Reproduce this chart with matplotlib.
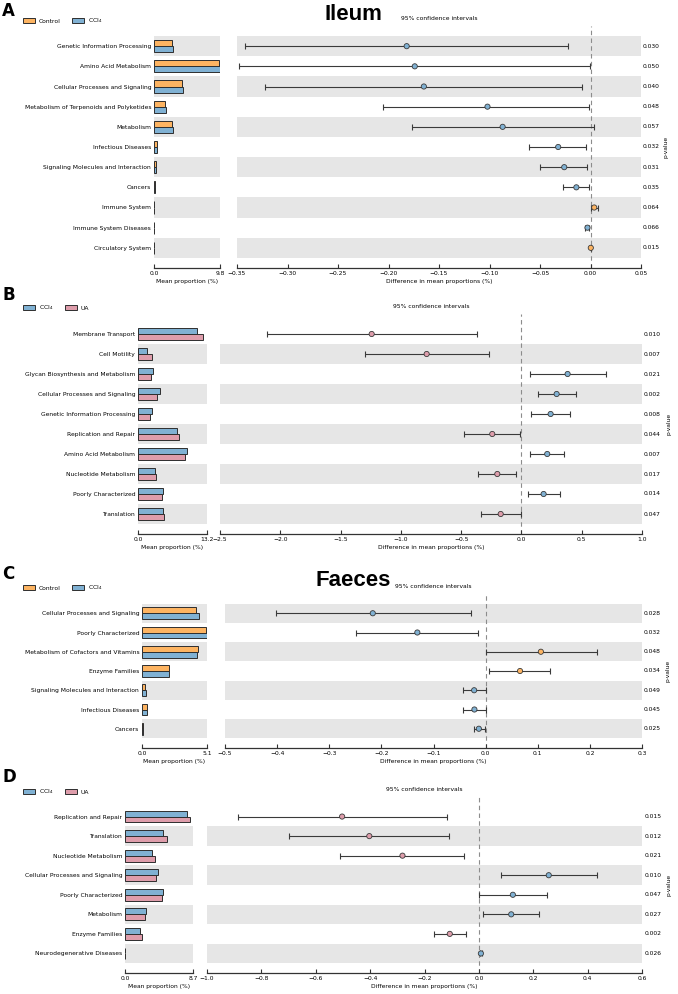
import matplotlib
matplotlib.use("Agg")
import matplotlib.pyplot as plt
from matplotlib.patches import Patch
import numpy as np

W, H = 678, 994

ORANGE = "#FDB462"
BLUE = "#80B1D3"
PINK = "#DE9DAB"
STRIPE = "#E6E6E6"
EDGE = "#2E2E2E"
FS = 4.3

# ---------------- A : Ileum, Control vs CCl4 ----------------
a_names = ["Genetic Information Processing", "Amino Acid Metabolism",
           "Cellular Processes and Signaling", "Metabolism of Terpenoids and Polyketides",
           "Metabolism", "Infectious Diseases", "Signaling Molecules and Interaction",
           "Cancers", "Immune System", "Immune System Diseases", "Circulatory System"]
a_ctrl = [2.72, 9.62, 4.20, 1.63, 2.72, 0.45, 0.30, 0.15, 0.06, 0.04, 0.02]
a_ccl4 = [2.87, 9.80, 4.36, 1.73, 2.87, 0.50, 0.33, 0.17, 0.05, 0.05, 0.02]
a_diff = [-0.182, -0.174, -0.165, -0.102, -0.087, -0.032, -0.026, -0.014, 0.0037, -0.003, 0.0003]
a_lo = [-0.342, -0.348, -0.322, -0.205, -0.177, -0.061, -0.050, -0.027, 0.0, -0.005, 0.0]
a_hi = [-0.0225, -0.0007, -0.0086, -0.001, 0.003, -0.004, -0.003, -0.001, 0.0076, -0.001, 0.0006]
a_p = ["0.030", "0.050", "0.040", "0.048", "0.057", "0.032", "0.031", "0.035", "0.064", "0.066", "0.015"]
a_barmax = 9.8
a_ticks = [-0.35, -0.30, -0.25, -0.20, -0.15, -0.10, -0.05, 0.00, 0.05]

# ---------------- B : Ileum, CCl4 vs UA ----------------
b_names = ["Membrane Transport", "Cell Motility", "Glycan Biosynthesis and Metabolism",
           "Cellular Processes and Signaling", "Genetic Information Processing",
           "Replication and Repair", "Amino Acid Metabolism", "Nucleotide Metabolism",
           "Poorly Characterized", "Translation"]
b_ccl4 = [11.35, 1.79, 2.80, 4.14, 2.68, 7.52, 9.30, 3.32, 4.78, 4.72]
b_ua = [12.50, 2.61, 2.49, 3.70, 2.36, 7.78, 9.04, 3.51, 4.59, 4.91]
b_diff = [-1.242, -0.786, 0.383, 0.292, 0.242, -0.242, 0.214, -0.200, 0.184, -0.172]
b_lo = [-2.113, -1.300, 0.070, 0.134, 0.081, -0.474, 0.070, -0.358, 0.051, -0.338]
b_hi = [-0.372, -0.267, 0.700, 0.452, 0.402, -0.010, 0.355, -0.048, 0.322, -0.002]
b_p = ["0.010", "0.007", "0.021", "0.002", "0.008", "0.044", "0.007", "0.017", "0.014", "0.047"]
b_barmax = 13.2
b_ticks = [-2.5, -2.0, -1.5, -1.0, -0.5, 0.0, 0.5, 1.0]

# ---------------- C : Faeces, Control vs CCl4 ----------------
c_names = ["Cellular Processes and Signaling", "Poorly Characterized",
           "Metabolism of Cofactors and Vitamins", "Enzyme Families",
           "Signaling Molecules and Interaction", "Infectious Diseases", "Cancers"]
c_ctrl = [4.21, 5.00, 4.42, 2.14, 0.26, 0.39, 0.08]
c_ccl4 = [4.45, 5.10, 4.31, 2.09, 0.29, 0.42, 0.10]
c_diff = [-0.2165, -0.131, 0.106, 0.066, -0.022, -0.0215, -0.013]
c_lo = [-0.403, -0.248, 0.001, 0.006, -0.043, -0.0426, -0.023]
c_hi = [-0.029, -0.015, 0.213, 0.124, 0.0, 0.0, -0.002]
c_p = ["0.028", "0.032", "0.048", "0.034", "0.049", "0.045", "0.025"]
c_barmax = 5.1
c_ticks = [-0.5, -0.4, -0.3, -0.2, -0.1, 0.0, 0.1, 0.2, 0.3]

# ---------------- D : Faeces, CCl4 vs UA ----------------
d_names = ["Replication and Repair", "Translation", "Nucleotide Metabolism",
           "Cellular Processes and Signaling", "Poorly Characterized", "Metabolism",
           "Enzyme Families", "Neurodegenerative Diseases"]
d_ccl4 = [7.93, 4.90, 3.50, 4.22, 4.90, 2.64, 1.96, 0.05]
d_ua = [8.36, 5.33, 3.80, 4.01, 4.77, 2.52, 2.13, 0.05]
d_diff = [-0.503, -0.403, -0.281, 0.257, 0.125, 0.119, -0.107, 0.0074]
d_lo = [-0.887, -0.697, -0.509, 0.080, 0.0, 0.016, -0.165, 0.003]
d_hi = [-0.117, -0.110, -0.054, 0.435, 0.250, 0.221, -0.047, 0.012]
d_p = ["0.015", "0.012", "0.021", "0.010", "0.047", "0.027", "0.002", "0.026"]
d_barmax = 8.7
d_ticks = [-1.0, -0.8, -0.6, -0.4, -0.2, 0.0, 0.2, 0.4, 0.6]

CCL4 = "CCl$_4$"


def fmt(v, nd):
    s = f"{v:.{nd}f}"
    if float(s) == 0:
        s = f"{0:.{nd}f}"
    return s.replace("-", "\u2212")


def box(x0, x1, y0, y1):
    return [x0 / W, 1 - y1 / H, (x1 - x0) / W, (y1 - y0) / H]


def style_axis(ax):
    for s in ["top", "right", "left"]:
        ax.spines[s].set_visible(False)
    ax.spines["bottom"].set_linewidth(0.9)
    ax.spines["bottom"].set_color("#333333")
    ax.tick_params(axis="x", direction="in", length=3, width=0.8, labelsize=FS, pad=2.5,
                   color="#333333")


def panel(letter, letter_y, leg_y, names, g1, g2, lab1, lab2, col1, col2,
          diff, lo, hi, pvals, barmax, ticks, nd, bar_x, ci_x, y_top, y_bot):
    n = len(names)
    ys = np.arange(n)[::-1]

    axb = fig.add_axes(box(bar_x[0], bar_x[1], y_top, y_bot))
    axc = fig.add_axes(box(ci_x[0], ci_x[1], y_top, y_bot))

    for ax in (axb, axc):
        for y in ys:
            if y % 2 == 0:
                ax.axhspan(y - 0.5, y + 0.5, color=STRIPE, lw=0, zorder=0)
        ax.set_ylim(-1, n)
        style_axis(ax)

    axb.barh(ys + 0.15, g1, height=0.3, color=col1, edgecolor=EDGE, lw=0.7, zorder=2)
    axb.barh(ys - 0.15, g2, height=0.3, color=col2, edgecolor=EDGE, lw=0.7, zorder=2)
    axb.set_xlim(0, barmax)
    axb.set_xticks([0, barmax])
    axb.set_xticklabels(["0.0", f"{barmax:.1f}"])
    axb.set_yticks(ys)
    axb.set_yticklabels(names, fontsize=FS)
    axb.tick_params(axis="y", length=0, pad=2)
    axb.set_xlabel("Mean proportion (%)", fontsize=FS, labelpad=2)

    diff = np.array(diff)
    err = [diff - np.array(lo), np.array(hi) - diff]
    axc.axvline(0, ls=(0, (4, 3)), color="#8C8C8C", lw=0.8, zorder=1)
    axc.errorbar(diff, ys, xerr=err, fmt="none", ecolor="#3A3A3A", elinewidth=0.8,
                 capsize=2.2, capthick=0.8, zorder=3)
    cols = [col1 if d > 0 else col2 for d in diff]
    axc.scatter(diff, ys, s=14, c=cols, edgecolors="#3A3A3A", linewidths=0.6, zorder=4)
    axc.set_xlim(ticks[0], ticks[-1])
    axc.set_xticks(ticks)
    axc.set_xticklabels([fmt(t, nd) for t in ticks])
    axc.set_yticks([])
    axc.set_xlabel("Difference in mean proportions (%)", fontsize=FS, labelpad=2)
    axc.set_title("95% confidence intervals", fontsize=FS, pad=4)
    tr = axc.get_yaxis_transform()
    for y, p in zip(ys, pvals):
        axc.text(1.005, y, p, transform=tr, ha="left", va="center", fontsize=FS)
    axc.text(1.063, 0.5, "p-value", transform=axc.transAxes, rotation=90,
             ha="center", va="center", fontsize=FS)

    fig.text(2 / W, 1 - letter_y / H, letter, fontsize=12, fontweight="heavy",
             family="DejaVu Sans", va="top", ha="left")
    handles = [Patch(facecolor=col1, edgecolor=EDGE, lw=0.7),
               Patch(facecolor=col2, edgecolor=EDGE, lw=0.7)]
    fig.legend(handles, [lab1, lab2], ncol=2, frameon=False, fontsize=FS,
               loc="center left", bbox_to_anchor=(20 / W, 1 - leg_y / H),
               handlelength=2.0, handleheight=0.8, handletextpad=0.6,
               columnspacing=2.0, borderpad=0)


fig = plt.figure(figsize=(W / 100, H / 100), dpi=100)

panel("A", 2, 21, a_names, a_ctrl, a_ccl4, "Control", CCL4, ORANGE, BLUE,
      a_diff, a_lo, a_hi, a_p, a_barmax, a_ticks, 2, (154, 220), (237, 641), 26, 268)
panel("B", 286, 308, b_names, b_ccl4, b_ua, CCL4, "UA", BLUE, PINK,
      b_diff, b_lo, b_hi, b_p, b_barmax, b_ticks, 1, (138, 207), (220, 642), 314, 534)
panel("C", 565, 588, c_names, c_ctrl, c_ccl4, "Control", CCL4, ORANGE, BLUE,
      c_diff, c_lo, c_hi, c_p, c_barmax, c_ticks, 1, (142, 207), (225, 642), 594, 748)
panel("D", 768, 792, d_names, d_ccl4, d_ua, CCL4, "UA", BLUE, PINK,
      d_diff, d_lo, d_hi, d_p, d_barmax, d_ticks, 1, (125, 193), (207, 642), 797, 973)

fig.text(353 / W, 1 - 14 / H, "Ileum", fontsize=16, fontweight="bold",
         family="Liberation Sans", ha="center", va="center")
fig.text(353 / W, 1 - 581 / H, "Faeces", fontsize=16, fontweight="bold",
         family="Liberation Sans", ha="center", va="center")

fig.savefig("out.png", dpi=100)
